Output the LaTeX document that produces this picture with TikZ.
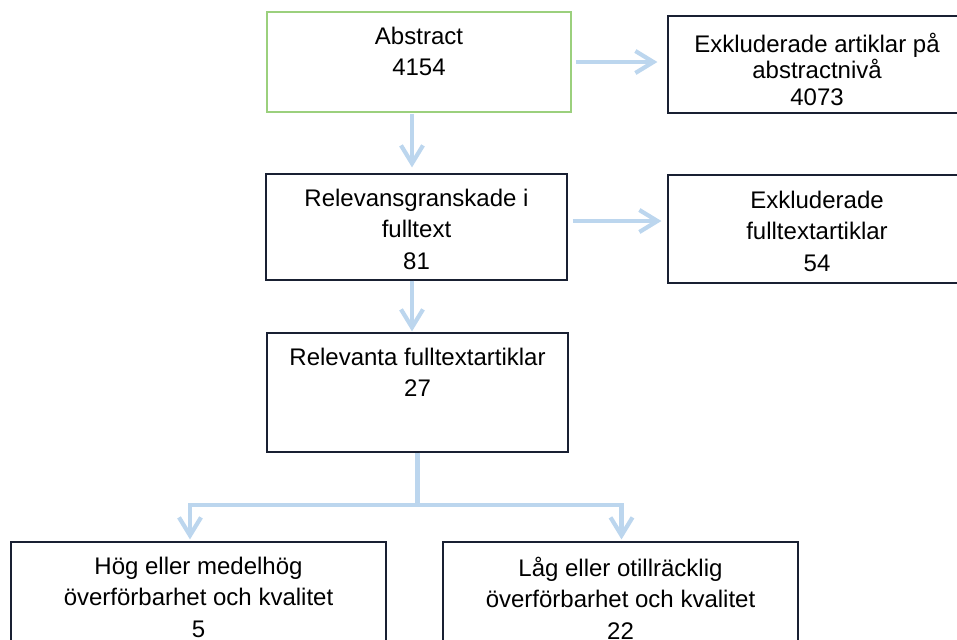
\documentclass[tikz,border=0pt]{standalone}
\usepackage{fontspec}
\setmainfont{Liberation Sans}
\usetikzlibrary{arrows.meta}

\definecolor{flowblue}{RGB}{188,214,238}
\definecolor{absgreen}{RGB}{155,208,125}
\definecolor{boxline}{RGB}{25,32,50}

\tikzset{
  box/.style={draw=boxline, line width=0.6pt, inner sep=0pt},
  txt/.style={font=\fontsize{12}{15.75}\selectfont, align=center, inner sep=0pt, anchor=north},
  flow/.style={draw=flowblue, line width=2.1pt},
  flowarr/.style={flow, -{Straight Barb[length=9pt, width=11pt]}},
}

\begin{document}
\begin{tikzpicture}[x=0.5pt, y=-0.5pt]
  \useasboundingbox (0,0) rectangle (957,639);
  \clip (0,0) rectangle (957,639);

  % boxes
  \node[box, draw=absgreen, line width=0.8pt, minimum width=152pt, minimum height=50pt] (abs) at (419,62) {};
  \node[box, minimum width=149pt, minimum height=48.5pt] (exkl1) at (817,64.5) {};
  \node[box, minimum width=150.5pt, minimum height=53pt] (rel1) at (416.5,227) {};
  \node[box, minimum width=149pt, minimum height=54pt] (exkl2) at (817,229) {};
  \node[box, minimum width=150.5pt, minimum height=59.5pt] (relv) at (417.5,392.5) {};
  \node[box, minimum width=187.5pt, minimum height=69pt] (hog) at (198.5,611) {};
  \node[box, minimum width=177.5pt, minimum height=69pt] (lag) at (620.5,611) {};

  % texts
  \node[txt] (abs-t) at ([yshift=-7.5pt]abs.north) {Abstract\\4154};
  \node[txt, font=\fontsize{12}{13.25}\selectfont] (exkl1-t) at ([yshift=-8.5pt]exkl1.north) {Exkluderade artiklar på\\abstractnivå\\4073};
  \node[txt] (rel1-t) at ([yshift=-7.5pt]rel1.north) {Relevansgranskade i\\fulltext\\81};
  \node[txt] (exkl2-t) at ([yshift=-8pt]exkl2.north) {Exkluderade\\fulltextartiklar\\54};
  \node[txt] (relv-t) at ([yshift=-7.5pt]relv.north) {Relevanta fulltextartiklar\\27};
  \node[txt] (hog-t) at ([yshift=-7.5pt]hog.north) {Hög eller medelhög\\överförbarhet och kvalitet\\5};
  \node[txt] (lag-t) at ([yshift=-7.5pt]lag.north) {Låg eller otillräcklig\\överförbarhet och kvalitet\\22};

  % connectors
  \coordinate (spine) at (412,0);
  \draw[flowarr, shorten <=0.5pt, shorten >=3pt] (abs.south -| spine) -- (rel1.north -| spine);
  \draw[flowarr, shorten >=0.5pt] (rel1.south -| spine) -- (relv.north -| spine);
  \draw[flowarr, shorten <=2pt, shorten >=5pt] (abs.east) -- (abs.east -| exkl1.west);
  \draw[flowarr, shorten <=2.5pt, shorten >=3pt] ([yshift=3pt]rel1.east) -- ([yshift=3pt]rel1.east -| exkl2.west);
  \draw[flow] (relv.south) -- ++(0,52) coordinate (split);
  \draw[flowarr, shorten >=1pt] (split) -| ([xshift=-4.25pt]hog.north);
  \draw[flowarr, shorten >=1pt] (split) -| ([xshift=0.5pt]lag.north);
\end{tikzpicture}
\end{document}
